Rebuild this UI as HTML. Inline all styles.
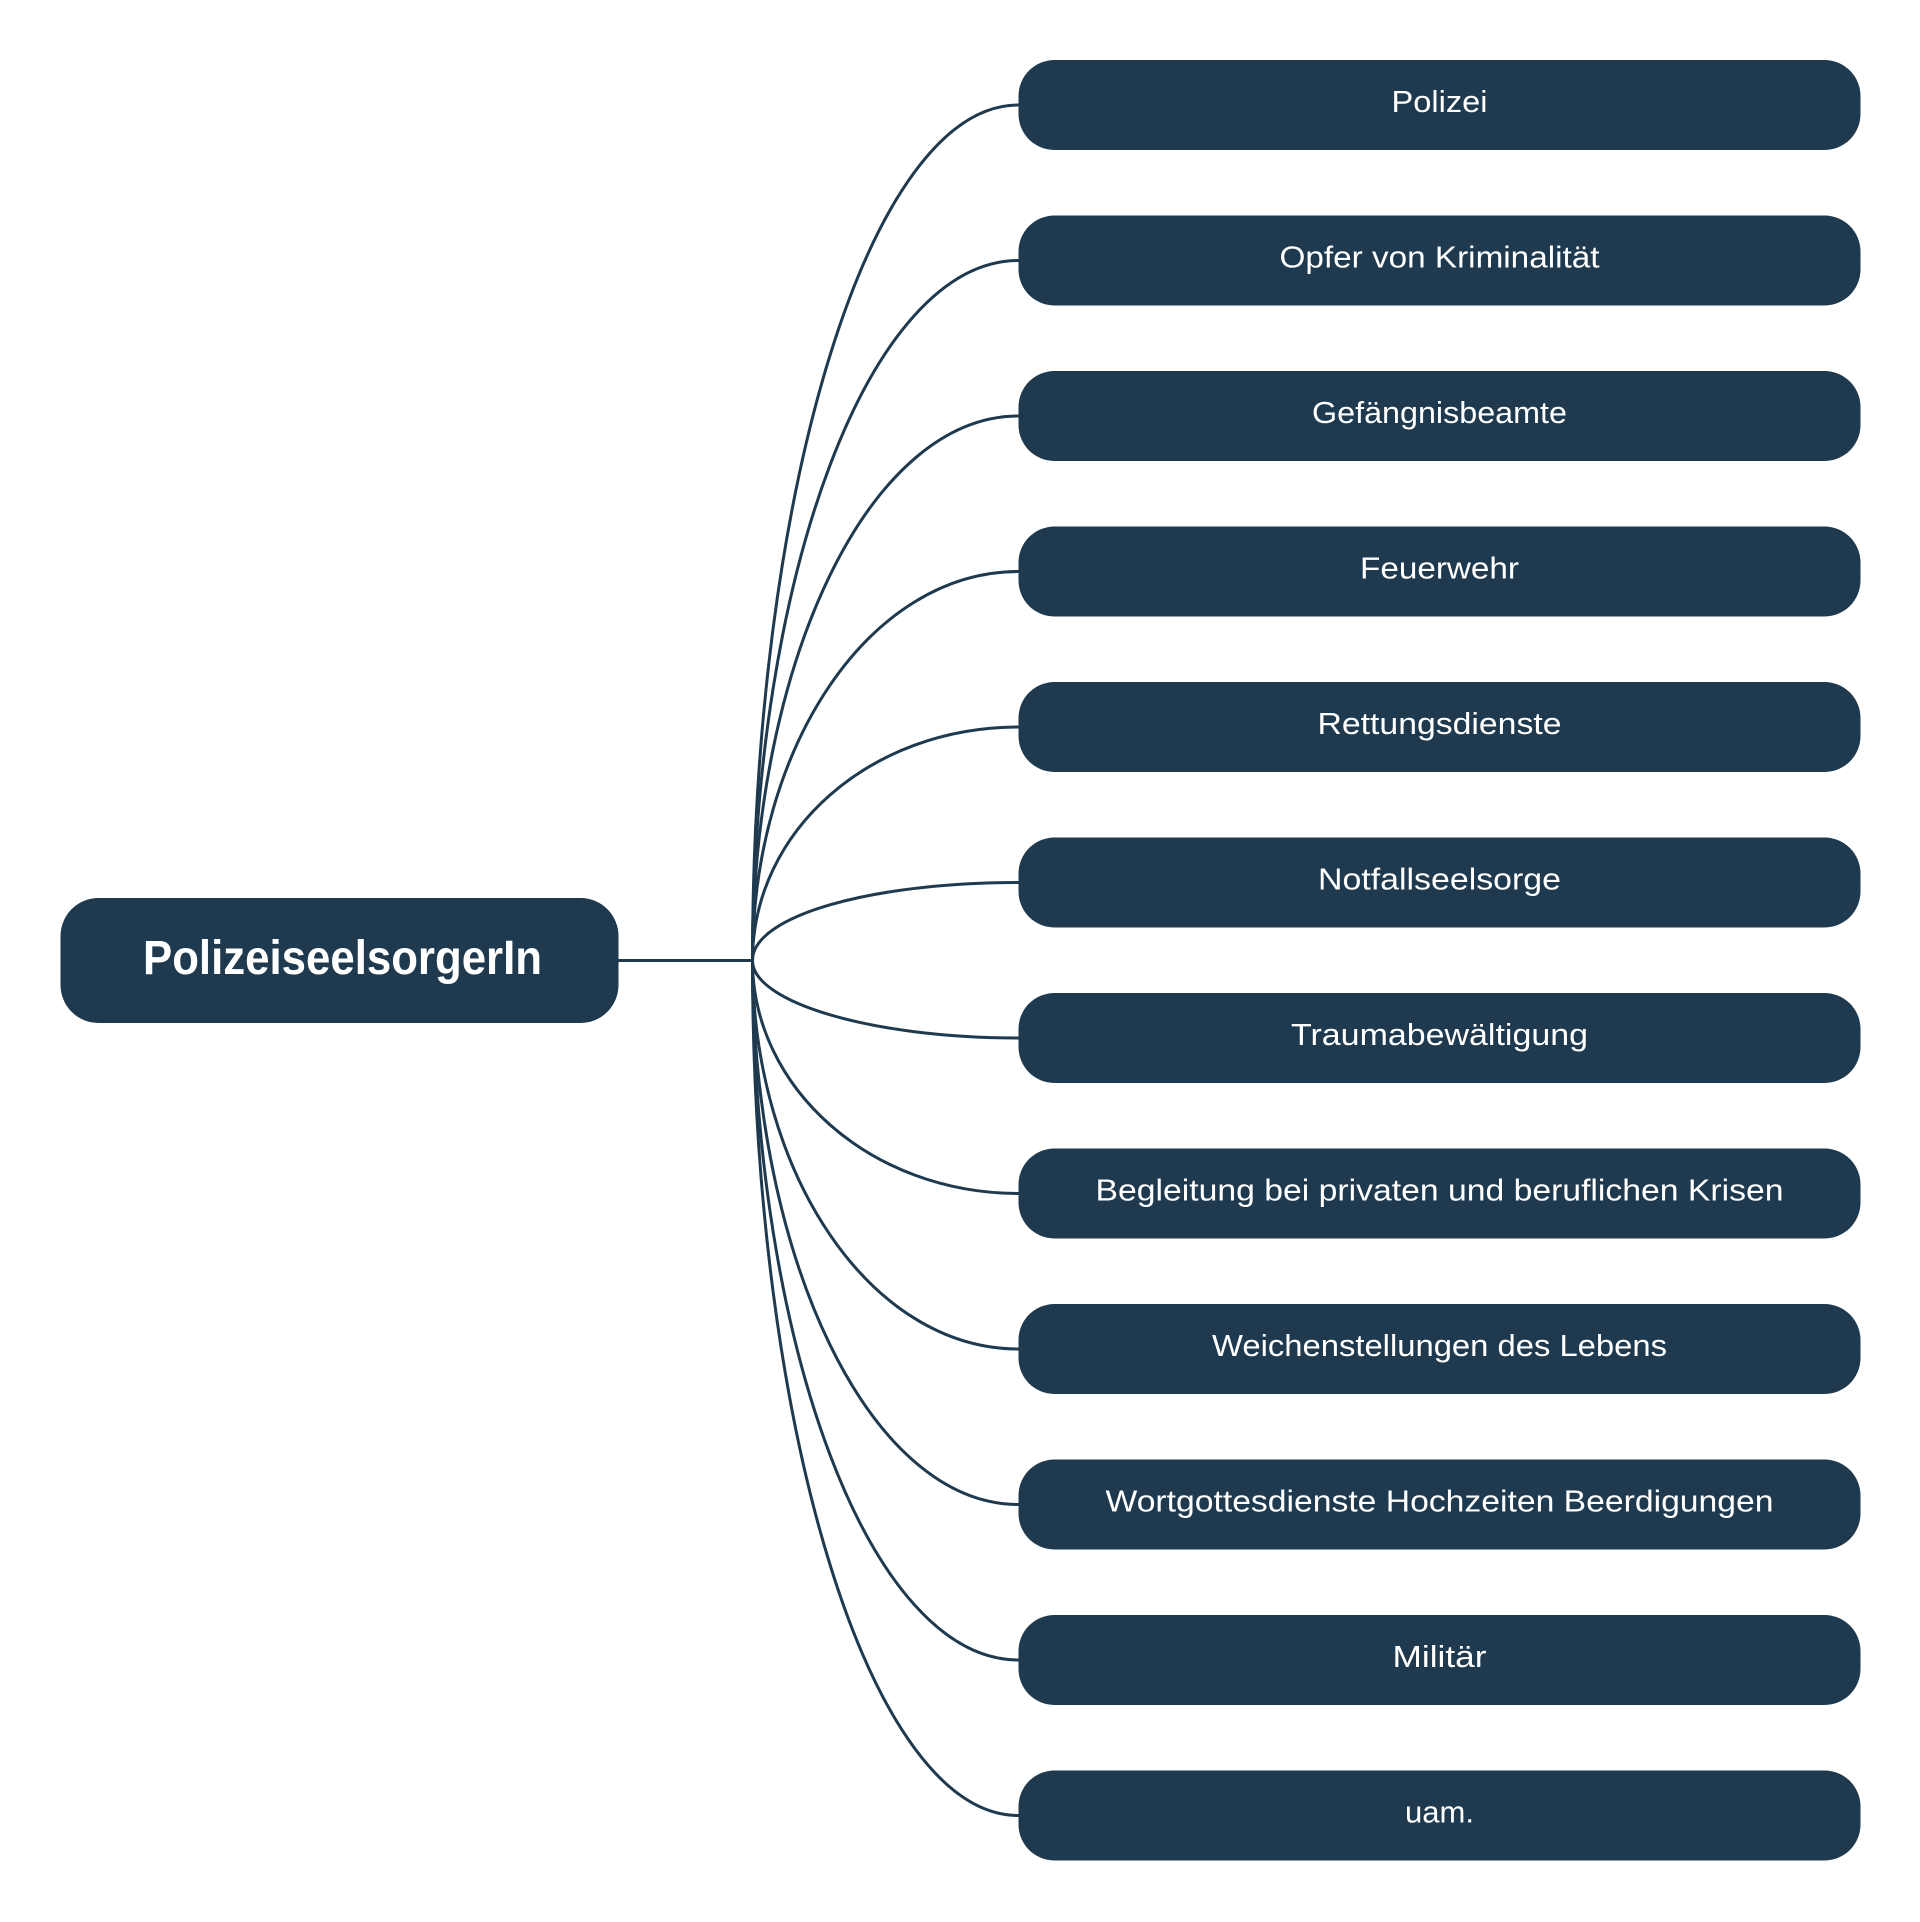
<!DOCTYPE html>
<html><head><meta charset="utf-8"><style>
html,body{margin:0;padding:0;background:#fff;}
svg{display:block;}
text{font-family:"Liberation Sans",sans-serif;fill:#fff;}
</style></head><body>
<svg width="1920" height="1922" viewBox="0 0 1920 1922" xmlns="http://www.w3.org/2000/svg">
<g transform="translate(2.5,0)">
<g fill="none" stroke="#1f3a4f" stroke-width="3">
<line x1="616" y1="960.5" x2="750" y2="960.5"/>
<path d="M750 960.5 C750 487.5 868 105 1016 105"/>
<path d="M750 960.5 C750 573 868 260.5 1016 260.5"/>
<path d="M750 960.5 C750 659 868 416 1016 416"/>
<path d="M750 960.5 C750 745 868 571.5 1016 571.5"/>
<path d="M750 960.5 C750 830.5 868 727 1016 727"/>
<path d="M750 960.5 C750 916 868 882.5 1016 882.5"/>
<path d="M750 960.5 C750 1002 868 1038 1016 1038"/>
<path d="M750 960.5 C750 1088 868 1193.5 1016 1193.5"/>
<path d="M750 960.5 C750 1174 868 1349 1016 1349"/>
<path d="M750 960.5 C750 1260 868 1504.5 1016 1504.5"/>
<path d="M750 960.5 C750 1346 868 1660 1016 1660"/>
<path d="M750 960.5 C750 1431.5 868 1815.5 1016 1815.5"/>
</g>
<g fill="#1f3a4f">
<rect x="58" y="898" width="558" height="125" rx="38"/>
<rect x="1016" y="60" width="842" height="90" rx="36"/>
<rect x="1016" y="215.5" width="842" height="90" rx="36"/>
<rect x="1016" y="371" width="842" height="90" rx="36"/>
<rect x="1016" y="526.5" width="842" height="90" rx="36"/>
<rect x="1016" y="682" width="842" height="90" rx="36"/>
<rect x="1016" y="837.5" width="842" height="90" rx="36"/>
<rect x="1016" y="993" width="842" height="90" rx="36"/>
<rect x="1016" y="1148.5" width="842" height="90" rx="36"/>
<rect x="1016" y="1304" width="842" height="90" rx="36"/>
<rect x="1016" y="1459.5" width="842" height="90" rx="36"/>
<rect x="1016" y="1615" width="842" height="90" rx="36"/>
<rect x="1016" y="1770.5" width="842" height="90" rx="36"/>
</g>
<text x="340" y="974" font-size="48" font-weight="bold" text-anchor="middle" textLength="399" lengthAdjust="spacingAndGlyphs">PolizeiseelsorgerIn</text>
<g font-size="31" text-anchor="middle">
<text x="1437" y="112" textLength="96" lengthAdjust="spacingAndGlyphs">Polizei</text>
<text x="1437" y="267.5" textLength="320" lengthAdjust="spacingAndGlyphs">Opfer von Kriminalität</text>
<text x="1437" y="423" textLength="255" lengthAdjust="spacingAndGlyphs">Gefängnisbeamte</text>
<text x="1437" y="578.5" textLength="159" lengthAdjust="spacingAndGlyphs">Feuerwehr</text>
<text x="1437" y="734" textLength="244" lengthAdjust="spacingAndGlyphs">Rettungsdienste</text>
<text x="1437" y="889.5" textLength="243" lengthAdjust="spacingAndGlyphs">Notfallseelsorge</text>
<text x="1437" y="1045" textLength="297" lengthAdjust="spacingAndGlyphs">Traumabewältigung</text>
<text x="1437" y="1200.5" textLength="688" lengthAdjust="spacingAndGlyphs">Begleitung bei privaten und beruflichen Krisen</text>
<text x="1437" y="1356" textLength="455" lengthAdjust="spacingAndGlyphs">Weichenstellungen des Lebens</text>
<text x="1437" y="1511.5" textLength="668" lengthAdjust="spacingAndGlyphs">Wortgottesdienste Hochzeiten Beerdigungen</text>
<text x="1437" y="1667" textLength="94" lengthAdjust="spacingAndGlyphs">Militär</text>
<text x="1437" y="1822.5" textLength="69" lengthAdjust="spacingAndGlyphs">uam.</text>
</g>
</g>
</svg>
</body></html>
